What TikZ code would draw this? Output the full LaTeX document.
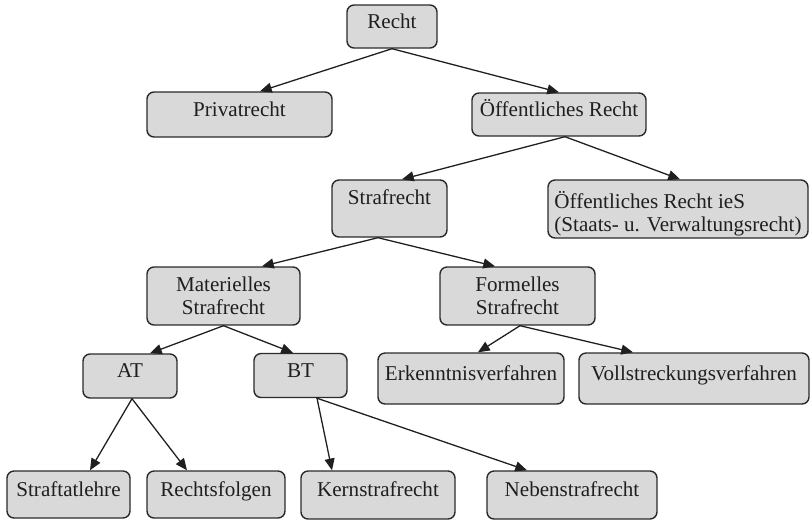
\documentclass[tikz,border=0pt]{standalone}
\usepackage{fontspec}
\setmainfont{Liberation Serif}
\usetikzlibrary{arrows.meta,calc}
\definecolor{kastengrau}{HTML}{D9D9D9}
\definecolor{randgrau}{HTML}{2B2B2B}

\begin{document}
\begin{tikzpicture}[x=0.03cm,y=-0.03cm,line cap=round,line join=round,>={Triangle[length=10pt,width=8.5pt]},
  kasten/.style 2 args={draw=randgrau,fill=kastengrau,rounded corners=6pt,line width=1.2pt,
    font=\fontsize{18}{20}\selectfont,text=black!88,minimum width=#1*0.03cm,minimum height=#2*0.03cm,
    inner sep=3pt,text height=13pt,text depth=9.7pt},
  zweizeilig/.style={text height=,text depth=},
  pfeil/.style={->,line width=1.1pt,draw=black!88}]
\useasboundingbox (0,0) rectangle (810,521);

% Ebenen von oben nach unten
\node[kasten={90}{43}] (recht) at (392,26.5) {Recht};
\node[kasten={185}{45}] (privat) at (239.5,114.5) {Privatrecht};
\node[kasten={174}{43}] (oeff) at (559,114.5) {Öffentliches Recht};
\node[kasten={115}{57},text depth=19pt] (straf) at (389.5,208.5) {Strafrecht};
\node[kasten={260}{58},text height=39pt,text depth=0pt,align=left] (oeffies) at (678,209) {Öffentliches Recht ieS\\(Staats- u. Verwaltungsrecht)};
\node[kasten={153}{58},zweizeilig,align=center] (materiell) at (223.5,296) {Materielles\\Strafrecht};
\node[kasten={155}{58},zweizeilig,align=center] (formell) at (517.5,296) {Formelles\\Strafrecht};
\node[kasten={94}{44}] (allg) at (130,376) {AT};
\node[kasten={93}{44}] (bes) at (300.5,375.5) {BT};
\node[kasten={186}{51}] (erkenntnis) at (471,378.5) {Erkenntnisverfahren};
\node[kasten={230}{51}] (vollstreckung) at (694,378.5) {Vollstreckungsverfahren};
\node[kasten={123}{47}] (straftat) at (68.5,494.5) {Straftatlehre};
\node[kasten={138}{47}] (folgen) at (216,494.5) {Rechtsfolgen};
\node[kasten={154}{48}] (kern) at (378,495) {Kernstrafrecht};
\node[kasten={170}{48}] (neben) at (572,495) {Nebenstrafrecht};

% Pfeile
\draw[pfeil] (recht.south) -- ($(privat.north)+(20.5,0)$);
\draw[pfeil] (recht.south) -- (oeff.north);
\draw[pfeil] ($(oeff.south)+(6,0)$) -- ($(straf.north)+(12.5,0)$);
\draw[pfeil] ($(oeff.south)+(6,0)$) -- ($(oeffies.north)+(2,0)$);
\draw[pfeil] ($(straf.south)+(-11.5,0)$) -- ($(materiell.north)+(38.5,0)$);
\draw[pfeil] ($(straf.south)+(-11.5,0)$) -- ($(formell.north)+(-22.5,0)$);
\draw[pfeil] (materiell.south) -- ($(allg.north)+(20,0)$);
\draw[pfeil] (materiell.south) -- ($(bes.north)+(-7.5,0)$);
\draw[pfeil] ($(formell.south)+(2.5,0)$) -- ($(erkenntnis.north)+(7,0)$);
\draw[pfeil] ($(formell.south)+(2.5,0)$) -- ($(vollstreckung.north)+(-61,0)$);
\draw[pfeil] ($(allg.south)+(2,0)$) -- ($(straftat.north)+(21.5,0)$);
\draw[pfeil] ($(allg.south)+(2,0)$) -- ($(folgen.north)+(-29,0)$);
\draw[pfeil] ($(bes.south)+(16.5,0)$) -- ($(kern.north)+(-46,0)$);
\draw[pfeil] ($(bes.south)+(16.5,0)$) -- ($(neben.north)+(-45,0)$);
\end{tikzpicture}
\end{document}
